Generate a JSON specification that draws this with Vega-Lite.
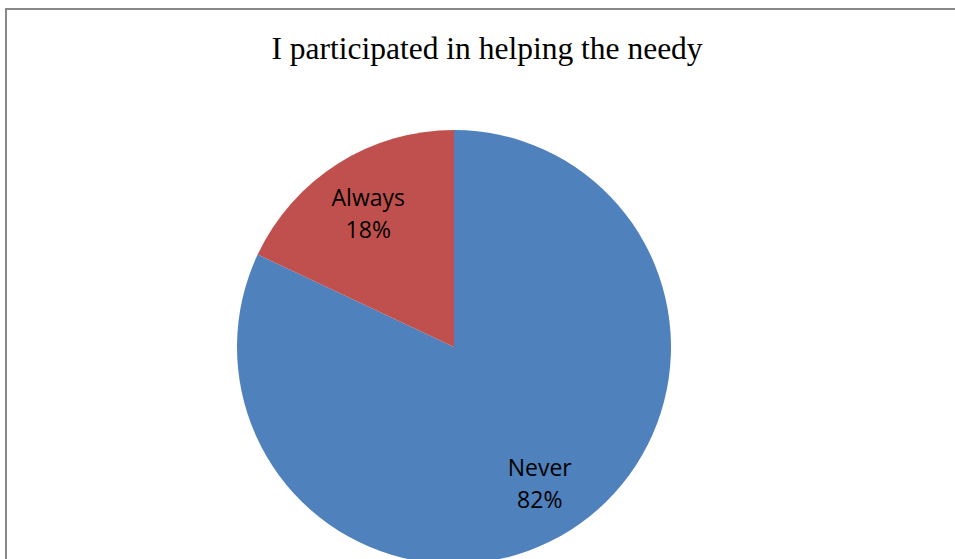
{
  "$schema": "https://vega.github.io/schema/vega-lite/v6.json",
  "autosize": {"type": "none"},
  "padding": {"left": 6, "top": 9, "right": 0, "bottom": 0},
  "width": 962,
  "height": 560,
  "background": "white",
  "view": {"stroke": "#888888", "strokeWidth": 2, "fill": "white"},
  "config": {"view": {"stroke": "#888888", "strokeWidth": 2}},
  "title": {
    "text": "I participated in helping the needy",
    "font": "Liberation Serif",
    "fontSize": 31.5,
    "fontWeight": "normal",
    "color": "black",
    "anchor": "middle",
    "baseline": "alphabetic",
    "offset": -81
  },
  "data": {
    "values": [
      {"category": "Never", "value": 82},
      {"category": "Always", "value": 18}
    ]
  },
  "transform": [
    {"calculate": "datum.category + '\\n' + datum.value + '%'", "as": "label"}
  ],
  "encoding": {
    "theta": {"field": "value", "type": "quantitative", "stack": true},
    "order": {"field": "category", "sort": "descending"}
  },
  "layer": [
    {
      "mark": {"type": "arc", "outerRadius": 217, "x": 448, "y": 338, "stroke": null},
      "encoding": {
        "color": {
          "field": "category",
          "type": "nominal",
          "scale": {"domain": ["Never", "Always"], "range": ["#4F81BD", "#C0504D"]},
          "legend": null
        }
      }
    },
    {
      "mark": {
        "type": "text",
        "radius": 160,
        "x": 448,
        "y": 338,
        "dy": -13,
        "font": "Open Sans",
        "fontSize": 23,
        "lineHeight": 32,
        "lineBreak": "\n",
        "align": "center",
        "baseline": "middle",
        "color": "black"
      },
      "encoding": {
        "text": {"field": "label", "type": "nominal"}
      }
    }
  ]
}
